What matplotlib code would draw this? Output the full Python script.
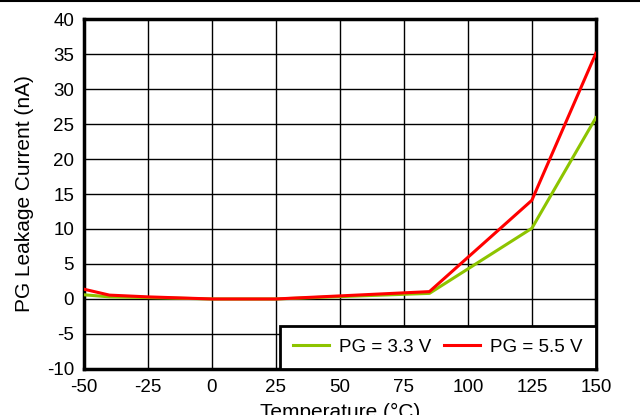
import matplotlib
matplotlib.use("Agg")
import matplotlib.pyplot as plt
from matplotlib.lines import Line2D

plt.rcParams["font.family"] = ["Liberation Sans", "DejaVu Sans"]
plt.rcParams["axes.unicode_minus"] = False

# PG pin leakage vs. temperature
temps = [-50, -40, -25, 0, 25, 85, 125, 150]
leak_33 = [0.6, 0.3, 0.2, 0.0, 0.0, 0.8, 10.1, 25.9]
leak_55 = [1.4, 0.55, 0.3, 0.0, 0.0, 1.05, 14.1, 35.1]

xticks = [-50, -25, 0, 25, 50, 75, 100, 125, 150]
yticks = [-10, -5, 0, 5, 10, 15, 20, 25, 30, 35, 40]

fig = plt.figure(figsize=(6.4, 4.15), dpi=100)
ax = fig.add_axes([0.131, 0.111, 0.800, 0.843])

ax.plot(temps, leak_33, color="#8DC400", lw=2.2, label="PG = 3.3 V", zorder=3)
ax.plot(temps, leak_55, color="#FF0000", lw=2.2, label="PG = 5.5 V", zorder=3)

ax.set_xlim(-50, 150)
ax.set_ylim(-10, 40)
ax.set_xticks(xticks)
ax.set_yticks(yticks)
ax.tick_params(length=0, labelsize=13.5, pad=7)
ax.grid(True, color="black", lw=1.0)
for s in ax.spines.values():
    s.set_linewidth(2.5)

ax.set_xlabel("Temperature (°C)", fontsize=15, labelpad=5)
ax.set_ylabel("PG Leakage Current (nA)", fontsize=15, labelpad=9)

leg = ax.legend(loc="lower right", bbox_to_anchor=(1.0, 0.0), ncol=2,
                fontsize=13.5, fancybox=False, framealpha=1, edgecolor="black",
                borderaxespad=0, handlelength=1.9, handletextpad=0.55,
                columnspacing=0.7, borderpad=0.7)
leg.get_frame().set_linewidth(2.0)

# rule across the top of the page
fig.add_artist(Line2D([0, 1], [0.997, 0.997], color="black", lw=1.5,
                      transform=fig.transFigure))

fig.savefig("out.png", dpi=100)
